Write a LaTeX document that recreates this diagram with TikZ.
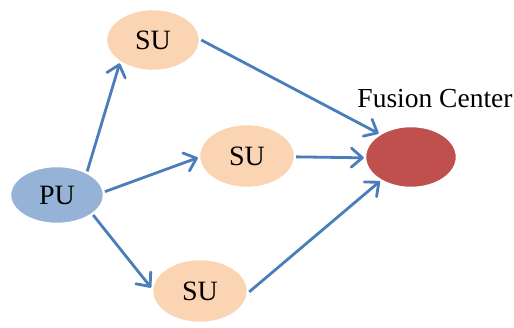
\documentclass[tikz,border=0pt]{standalone}
\usepackage{fontspec}
\setmainfont{Liberation Serif}
\usepackage{xcolor}
\usetikzlibrary{shapes,arrows.meta,positioning}
\definecolor{publue}{HTML}{95B3D7}
\definecolor{supeach}{HTML}{FBD4B4}
\definecolor{fcred}{HTML}{C0504D}
\definecolor{arrblue}{HTML}{4A7EBB}

\begin{document}
\begin{tikzpicture}[x=1pt,y=-1pt,
    blob/.style={ellipse, draw=white, line width=2.5pt, inner sep=0pt,
        minimum width=94pt, minimum height=62pt, font=\fontsize{28}{32}\selectfont},
    link/.style={draw=arrblue, line width=2.8pt,
        -{Straight Barb[length=11pt,width=19pt,line cap=round,line join=round]}}]
    \useasboundingbox (0,0) rectangle (514,328);

    % Nodes
    \node [blob, fill=publue, minimum height=58pt] (pu) at (57,195) {PU};
    \node [blob, fill=supeach] (sutop) at (153,40) {SU};
    \node [blob, fill=supeach, minimum width=96pt, minimum height=64pt] (sumid) at (247,156) {SU};
    \node [blob, fill=supeach, minimum width=96pt, minimum height=64pt] (subot) at (200,291) {SU};
    \node [blob, fill=fcred, minimum width=92pt] (fc) at (411,157) {};
    \node [font=\fontsize{27.5}{32}\selectfont] (fclabel) at (435,99) {Fusion Center};

    % Connections
    \draw [link] (pu.38) -- (sutop.215);
    \draw [link] (pu.4) -- (sumid.182);
    \draw [link] (pu.331) -- (subot.176);
    \draw [link] (sutop.0) -- (fc.144);
    \draw [link] (sumid.359) -- (fc.181);
    \draw [link] (subot.359) -- (fc.218);
\end{tikzpicture}
\end{document}
